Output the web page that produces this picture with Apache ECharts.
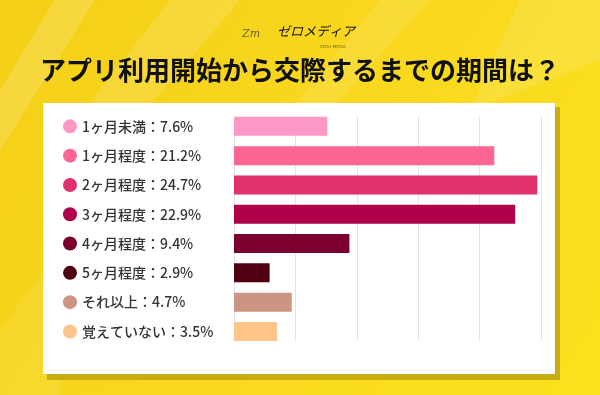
<!DOCTYPE html>
<html><head><meta charset="utf-8">
<script src="https://cdn.jsdelivr.net/npm/echarts@6/dist/echarts.min.js"></script>
<style>html,body{margin:0;padding:0;background:#f8d41c}#c{width:600px;height:395px}</style>
</head><body><div id="c"></div>
<script>
const categories = ['1ヶ月未満','1ヶ月程度','2ヶ月程度','3ヶ月程度','4ヶ月程度','5ヶ月程度','それ以上','覚えていない'];
const values = [7.6, 21.2, 24.7, 22.9, 9.4, 2.9, 4.7, 3.5];
const colors = ['#fd98c6','#fd6594','#e0306e','#b0004b','#7b002f','#4e0010','#cc9481','#ffc488'];
const axisTicks = [0, 5, 10, 15, 20, 25];
const titleText = 'アプリ利用開始から交際するまでの期間は？';

const FONT = '"Noto Sans CJK JP", "Noto Sans", sans-serif';
const chart = echarts.init(document.getElementById('c'), null, {renderer: 'canvas'});

const rich = { t: { fontSize: 14, color: '#333', fontFamily: FONT, fontWeight: 500, padding: [0,0,0,5] } };
colors.forEach((c, i) => { rich['d' + i] = { width: 14, height: 14, borderRadius: 7, backgroundColor: c }; });

const streak = (pts, op) => ({ type: 'polygon', silent: true, z: -9, shape: { points: pts }, style: { fill: 'rgba(255,255,255,' + op + ')' } });

chart.setOption({
  animation: false,
  backgroundColor: new echarts.graphic.LinearGradient(0, 0, 1, 1, [
    {offset: 0, color: '#f4cf18'}, {offset: 0.5, color: '#f9d81f'}, {offset: 1, color: '#fbe21c'}
  ]),
  graphic: [
    streak([[55,0],[95,0],[0,150],[0,90]], 0.16),
    streak([[170,0],[240,0],[120,140],[60,140]], 0.13),
    streak([[380,0],[430,0],[330,110],[290,110]], 0.1),
    streak([[520,0],[600,0],[600,60],[470,110]], 0.12),
    streak([[0,330],[60,250],[60,395],[0,395]], 0.07),
    { type: 'rect', silent: true, z: -8, shape: { x: 47, y: 107, width: 513, height: 273 }, style: { fill: '#c7ac12' } },
    { type: 'rect', silent: true, z: -7, shape: { x: 43, y: 103, width: 512, height: 271 }, style: { fill: '#ffffff' } },
    { type: 'text', silent: true, left: 'center', top: 57, style: { text: titleText, fontSize: 26, fontWeight: 'bold', fill: '#111', fontFamily: FONT } },
    { type: 'text', silent: true, x: 242, y: 29, style: { text: 'Zm', fontSize: 11, fontStyle: 'italic', fill: '#6b6440', fontFamily: 'DejaVu Serif' } },
    { type: 'text', silent: true, x: 277, y: 25, style: { text: 'ゼロメディア', fontSize: 13, fill: '#111', fontFamily: FONT, fontStyle: 'italic' } },
    { type: 'text', silent: true, x: 320, y: 45, style: { text: 'ZERO-MEDIA', fontSize: 4, fill: '#7a6a20', fontFamily: 'DejaVu Sans' } }
  ],
  grid: [
    { left: 234, width: 307, top: 111.7, height: 234.4, containLabel: false },
    { left: 234, width: 307, top: 117, height: 223, containLabel: false }
  ],
  xAxis: [
    { type: 'value', gridIndex: 0, min: 0, max: 25, interval: 5, show: false },
    { type: 'value', gridIndex: 1, min: axisTicks[0], max: axisTicks[axisTicks.length - 1], interval: 5,
      axisLine: { show: false }, axisTick: { show: false }, axisLabel: { show: false },
      splitLine: { show: true, lineStyle: { color: '#e3e3e3', width: 1 } } }
  ],
  yAxis: [
    { type: 'category', gridIndex: 0, data: categories, inverse: true,
      axisLine: { show: false }, axisTick: { show: false }, splitLine: { show: false },
      axisLabel: { align: 'left', margin: 171,
        formatter: (v, i) => '{d' + i + '|}{t|' + v + '：' + values[i].toFixed(1) + '%}', rich: rich } },
    { type: 'value', gridIndex: 1, min: 0, max: 1, show: false }
  ],
  series: [{
    type: 'bar', xAxisIndex: 0, yAxisIndex: 0, barWidth: 19, z: 3,
    data: values.map((v, i) => ({ value: v, itemStyle: { color: colors[i] } }))
  }]
});
</script></body></html>
